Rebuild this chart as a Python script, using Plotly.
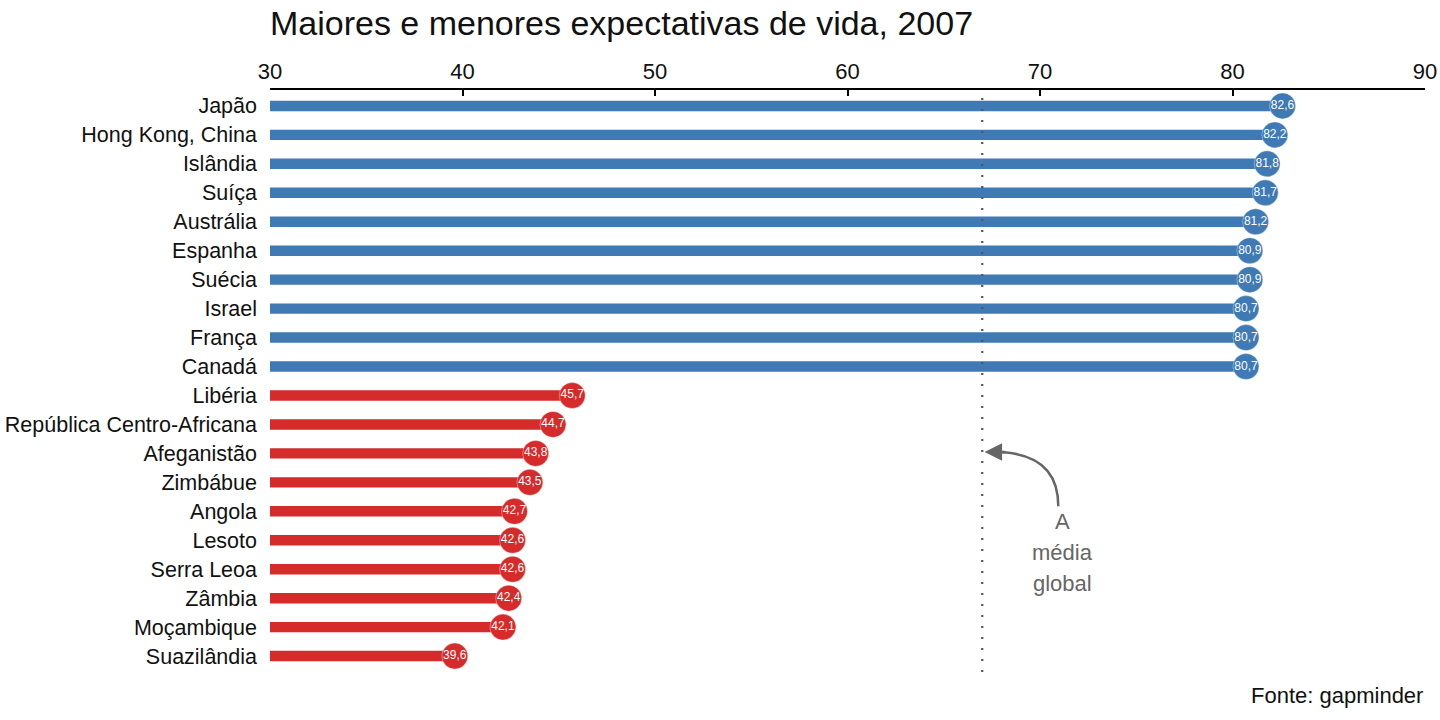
import plotly.graph_objects as go

countries = ["Japão", "Hong Kong, China", "Islândia", "Suíça", "Austrália", "Espanha",
             "Suécia", "Israel", "França", "Canadá", "Libéria", "República Centro-Africana",
             "Afeganistão", "Zimbábue", "Angola", "Lesoto", "Serra Leoa", "Zâmbia",
             "Moçambique", "Suazilândia"]
life_exp = [82.6, 82.2, 81.8, 81.7, 81.2, 80.9, 80.9, 80.7, 80.7, 80.7,
            45.7, 44.7, 43.8, 43.5, 42.7, 42.6, 42.6, 42.4, 42.1, 39.6]
group = ["top"] * 10 + ["bottom"] * 10
global_mean = 67.0
x_base = 30
x_ticks = [30, 40, 50, 60, 70, 80, 90]

BLUE = "#3f7ab4"
RED = "#d52b2b"
FONT = "Liberation Sans, Arial, sans-serif"
colors = [BLUE if g == "top" else RED for g in group]
labels = [f"{v:.1f}".replace(".", ",") for v in life_exp]

W, H = 1440, 720
L, R, T, B = 270, 15, 90, 48

fig = go.Figure()
fig.add_trace(go.Bar(
    y=countries, x=[v - x_base for v in life_exp], base=x_base, orientation="h",
    marker=dict(color=colors, line=dict(width=0)), width=0.36, hoverinfo="skip",
    showlegend=False))
fig.add_trace(go.Scatter(
    y=countries, x=life_exp, mode="markers+text", text=labels,
    textposition="middle center",
    textfont=dict(color="white", size=12, family=FONT),
    marker=dict(color=colors, size=26, line=dict(width=1, color="rgba(255,255,255,0.35)")),
    showlegend=False, cliponaxis=False))

# global mean line
fig.add_shape(type="line", xref="x", yref="paper", x0=global_mean, x1=global_mean,
              y0=0, y1=1, line=dict(color="#555555", width=2.2, dash="2px,9px"))

# curved arrow
fig.add_shape(type="path", xref="x", yref="paper",
              path="M 70.95,0.285 Q 70.95,0.378 67.6,0.378",
              line=dict(color="#666666", width=2.5))
fig.add_annotation(x=67.12, y=0.378, xref="x", yref="paper", ax=22, ay=0,
                   axref="pixel", ayref="pixel", text="", showarrow=True,
                   arrowhead=2, arrowsize=1.4, arrowwidth=2.5, arrowcolor="#666666")
for i, word in enumerate(["A", "média", "global"]):
    fig.add_annotation(x=71.15, y=(672 - 521 - 31 * i) / 582, xref="x", yref="paper",
                       yanchor="middle", text=word, showarrow=False,
                       font=dict(size=22, color="#666666"))

fig.add_annotation(x=1, y=(672 - 695) / 582, xref="paper", yref="paper", xanchor="right",
                   yanchor="middle", text="Fonte: gapminder", showarrow=False,
                   font=dict(size=22, color="#111111"))

fig.update_layout(
    width=W, height=H,
    margin=dict(l=L, r=R, t=T, b=B, autoexpand=False),
    paper_bgcolor="white", plot_bgcolor="white",
    font=dict(family=FONT, color="#111111"),
    title=dict(text="Maiores e menores expectativas de vida, 2007", x=L / W, xanchor="left",
               y=1 - 23 / H, yanchor="middle", font=dict(size=34, color="#111111")),
    xaxis=dict(side="top", range=[30, 90], tickvals=x_ticks, showgrid=False, zeroline=False,
               automargin=False,
               showline=True, linecolor="black", linewidth=2, ticks="inside", ticklen=6,
               tickwidth=2, tickcolor="black", tickfont=dict(size=22, color="#111111")),
    yaxis=dict(type="category", categoryorder="array", categoryarray=countries,
               range=[19.55, -0.55], showgrid=False, zeroline=False, showline=False,
               automargin=False,
               ticks="", ticklabelstandoff=12, tickfont=dict(size=21.5, color="#111111")),
    bargap=0.6,
)

fig.write_html("out.html", config={"displayModeBar": False},
               post_script="document.body.style.margin='0';document.body.style.overflow='hidden';")
